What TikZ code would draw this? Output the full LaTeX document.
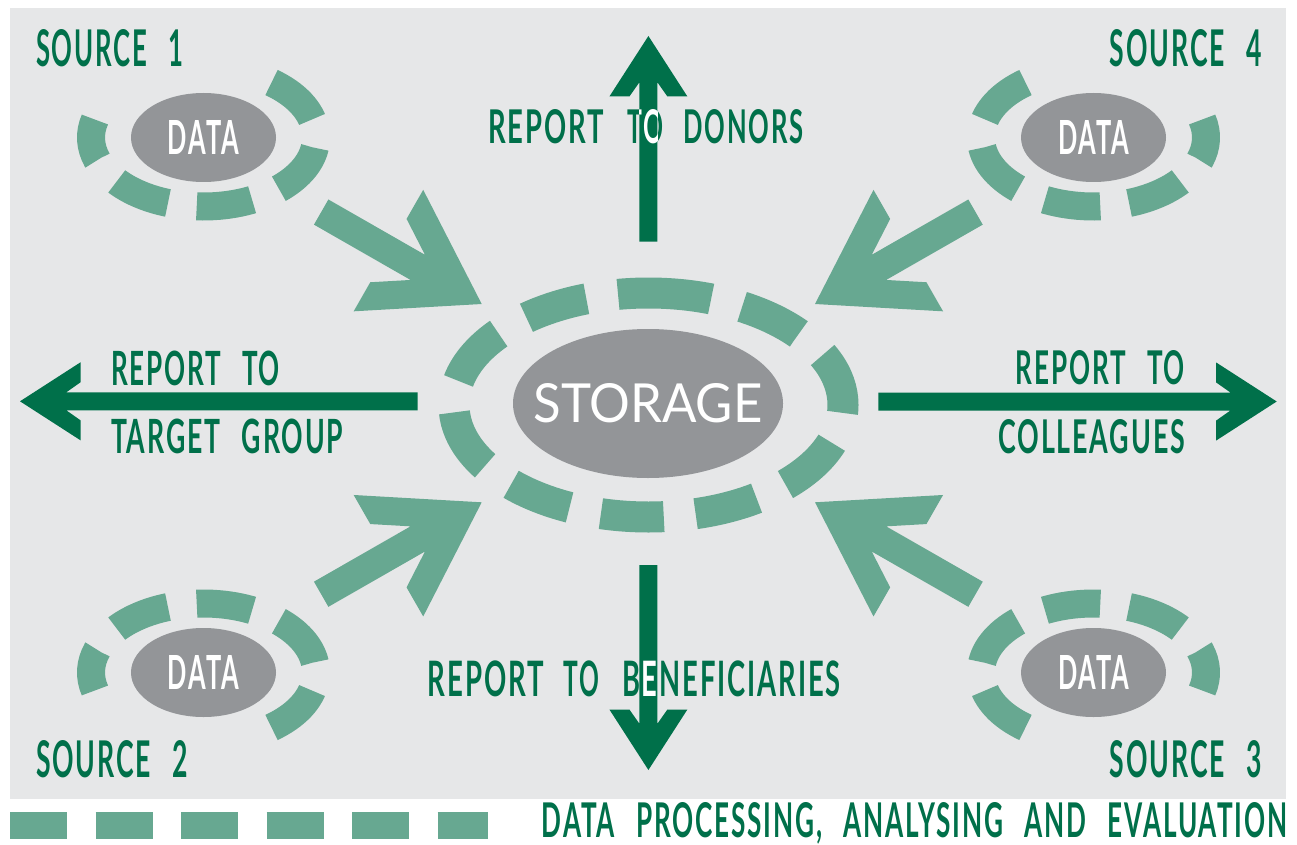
\documentclass[tikz,border=0pt]{standalone}
\usepackage{fontspec}
\usepackage{graphicx}
\usetikzlibrary{shapes.geometric}
\newfontfamily\condf[LetterSpace=7,WordSpace=2.6]{Lato}
\newfontfamily\storf{Lato}
\definecolor{bgc}{RGB}{230,231,232}
\definecolor{lg}{RGB}{103,168,145}
\definecolor{dg}{RGB}{0,112,74}
\definecolor{gc}{RGB}{147,149,152}
\newcommand\fittext[3]{\resizebox{#1pt}{#2pt}{\condf\bfseries #3}}
\newcommand\donorstext{\fittext{115.7}{34}{REPORT}\hspace{23pt}\fittext{36}{34}{TO}\hspace{20.3pt}\fittext{120}{34}{DONORS}}
\newcommand\beneftext{\fittext{116.3}{35.7}{REPORT}\hspace{19.3pt}\fittext{35.7}{35.7}{TO}\hspace{23pt}\fittext{218.7}{35.7}{BENEFICIARIES}}
\newcommand\lgarrow[3]{\fill[lg, shift={(#1,#2)}, rotate=#3] (0,0) -- (-107.5,-70) -- (-107.5,-36.5) -- (-73.7,-14.5) -- (-185,-14.5) -- (-185,14.5) -- (-73.7,14.5) -- (-107.5,36.5) -- (-107.5,70) -- cycle;}
\newcommand\dgarrow[4]{\fill[dg, shift={(#1,#2)}, rotate=#3] (0,0) -- (-60.5,-39) -- (-60.5,-19) -- (-46.3,-9) -- (-#4,-9) -- (-#4,9) -- (-46.3,9) -- (-60.5,19) -- (-60.5,39) -- cycle;}
\tikzset{
  sring/.style={draw=lg, line width=31pt, dash pattern=on 63pt off 32pt},
  dring/.style={draw=lg, line width=28pt, dash pattern=on 56pt off 29pt},
  blob/.style={ellipse, fill=gc, inner sep=0pt, outer sep=0pt},
  lbl/.style={inner sep=0pt, outer sep=0pt, text=dg},
  wlbl/.style={inner sep=0pt, outer sep=0pt, text=white},
}
\begin{document}
\begin{tikzpicture}[x=1pt,y=-1pt]
\useasboundingbox (0,0) rectangle (1297,845);
\fill[white] (0,0) rectangle (1297,845);
\fill[bgc] (10,8) rectangle (1286,799);
% light green arrows
\lgarrow{481.7}{304}{-29.8}
\lgarrow{815}{304}{209.8}
\lgarrow{481.7}{502.3}{29.8}
\lgarrow{815}{502.3}{150.2}
% rings
\draw[sring] (648.5,405) ++(-90:194.5 and 112) arc[start angle=-90, end angle=270, x radius=194.5, y radius=112];
\draw[dring] (203.5,137.5) ++(-52.8:112.5 and 69) arc[start angle=-52.8, end angle=195.1, x radius=112.5, y radius=69];
\draw[dring] (1093.5,137.5) ++(232.8:112.5 and 69) arc[start angle=232.8, end angle=-15.1, x radius=112.5, y radius=69];
\draw[dring] (203.5,672.5) ++(52.8:112.5 and 69) arc[start angle=52.8, end angle=-195.1, x radius=112.5, y radius=69];
\draw[dring] (1093.5,672.5) ++(127.2:112.5 and 69) arc[start angle=127.2, end angle=375.1, x radius=112.5, y radius=69];
% ellipses
\node[blob, minimum width=270pt, minimum height=149pt] (storage) at (648,403.5) {};
\node[blob, minimum width=145pt, minimum height=89pt] (d1) at (203.5,137.5) {};
\node[blob, minimum width=145pt, minimum height=89pt] (d4) at (1093.5,137.5) {};
\node[blob, minimum width=145pt, minimum height=89pt] (d2) at (203.5,672.5) {};
\node[blob, minimum width=145pt, minimum height=89pt] (d3) at (1093.5,672.5) {};
\node[wlbl] (storaget) at (storage.center) {\resizebox{229pt}{39pt}{\storf STORAGE}};
\node[wlbl] (d1t) at (d1.center) {\fittext{71}{34}{DATA}};
\node[wlbl] (d4t) at (d4.center) {\fittext{71}{34}{DATA}};
\node[wlbl] (d2t) at (d2.center) {\fittext{71}{34}{DATA}};
\node[wlbl] (d3t) at (d3.center) {\fittext{71}{34}{DATA}};
% dark report arrows
\dgarrow{648.4}{36}{90}{205.7}
\dgarrow{648.4}{770}{-90}{205}
\dgarrow{20}{401.3}{180}{397.7}
\dgarrow{1276.7}{401.5}{0}{398.4}
% labels
\node[lbl, anchor=base west] (s1) at (36,67) {\fittext{147}{37}{SOURCE 1}};
\node[lbl, anchor=base east] (s4) at (1262,67) {\fittext{152}{37}{SOURCE 4}};
\node[lbl, anchor=base west] (s2) at (36,777) {\fittext{152}{37}{SOURCE 2}};
\node[lbl, anchor=base east] (s3) at (1262,777) {\fittext{152}{37}{SOURCE 3}};
\node[lbl, anchor=base west] (donors) at (488.3,144) {\donorstext};
\node[lbl, anchor=base west] (tg1) at (111,385) {\fittext{169}{34.5}{REPORT TO}};
\node[lbl, anchor=base west] (tg2) at (111,453.5) {\fittext{232.3}{34.5}{TARGET GROUP}};
\node[lbl, anchor=base east] (co1) at (1185,384.5) {\fittext{169}{34}{REPORT TO}};
\node[lbl, anchor=base east] (co2) at (1185,453.3) {\fittext{186.7}{34}{COLLEAGUES}};
\node[lbl, anchor=base west] (benef) at (427.7,696.7) {\beneftext};
\begin{scope}
\clip (639.4,82) rectangle (657.4,242);
\node[wlbl, anchor=base west] (donorsw) at (488.3,144) {\donorstext};
\end{scope}
\begin{scope}
\clip (639.4,565) rectangle (657.4,724);
\node[wlbl, anchor=base west] (benefw) at (427.7,696.7) {\beneftext};
\end{scope}
% legend
\draw[lg, line width=27pt, dash pattern=on 57pt off 28.5pt] (10,825.5) -- (488,825.5);
\node[lbl, anchor=base east] (legend) at (1287,837) {\fittext{745}{35}{DATA PROCESSING, ANALYSING AND EVALUATION}};
\end{tikzpicture}
\end{document}
